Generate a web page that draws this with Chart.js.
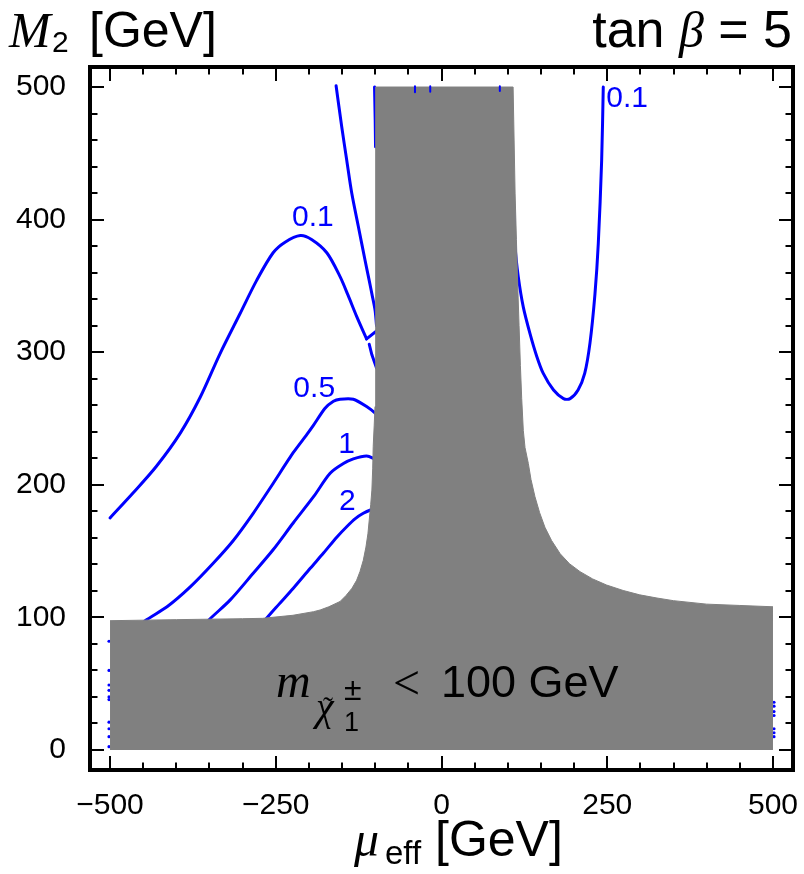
<!DOCTYPE html>
<html><head><meta charset="utf-8">
<script src="https://cdn.jsdelivr.net/npm/chart.js@4.4.1/dist/chart.umd.min.js"></script>
<style>html,body{margin:0;padding:0;background:#fff;} #wrap{width:804px;height:874px;position:relative;}</style>
</head><body><div id="wrap"><canvas id="c" width="804" height="874"></canvas></div>
<script>
// axis ticks
const xTickValues = [-500, -250, 0, 250, 500];
const yTickValues = [0, 100, 200, 300, 400, 500];

// excluded region (m_chargino < 100 GeV): upper boundary, [mu_eff, M2]
const grayBoundary = [[-500,97.5],[-400,98.3],[-300,99],[-270,99.3],[-224,101.6],[-193,104.3],[-183,105.6],[-170,108],[-153,112],[-144,116.5],[-135,122],[-128,128],[-123,134.5],[-118,143],[-114,153],[-111,163],[-109,173.5],[-106.8,185],[-105,196],[-103.8,212],[-103,229],[-101.5,245],[-100.3,259],[-99.5,280],[-99.2,350],[-99,500],[108,500],[109.5,460],[111,420],[113,385],[115,350],[117,320],[119,290],[121,265],[123.4,241],[126,228],[131,216],[135,204],[141,191],[148,179],[156,168],[166,158],[179,148],[193,140.5],[209,134.5],[228,129],[249,124.4],[274,120.3],[299,117],[325,114.6],[350,112.6],[400,110],[450,109],[500,108]];

// contour lines
const c01Hump = [[-500,175],[-465,194],[-430,214],[-394,239],[-364,266],[-334,299],[-304,329],[-279,354],[-254,375],[-236,383],[-213,388],[-196,385],[-173,375],[-153,357],[-141,343],[-128,327],[-113,310]];
const c01Join = [[-113,310],[-98,316]];
const c01Left = [[-159,501],[-150.5,470],[-143,445],[-135.4,420],[-125.5,395],[-115.4,369.5],[-109,354],[-105,344],[-100.3,332],[-98,320]];
const c01Edge = [[-101,500],[-100,475],[-99.5,455]];
const c01Low = [[-109,306],[-105,298],[-98,288]];
const c01Right = [[244,500],[241.6,445],[236.5,382],[231.5,344],[224,307],[216,284],[206,271.5],[194,265],[184,265],[169,271.5],[153.5,284],[143.6,297],[133.5,314],[123.4,334],[115.8,357],[111,380],[108,420]];
const c05 = [[-460,91],[-447,97.5],[-414,108],[-379,123],[-344,141],[-314,158],[-284,178.5],[-254,201],[-224,224],[-203,238],[-193,245],[-176,257.5],[-163,263],[-153,264.5],[-133,264.5],[-113,259],[-100,254],[-95,251]];
const c1 = [[-362,91],[-352,97.5],[-319,113],[-284,133.3],[-254,151],[-224,171],[-193,191],[-168,208.7],[-148,216],[-133,219.5],[-113,221.7],[-100,219.2],[-95,218]];
const c2 = [[-276,91],[-266,98],[-245,110],[-223.5,122],[-198,137],[-178,148.5],[-158,160.5],[-143,168.4],[-130,174.5],[-118,178.5],[-107,181],[-98,182]];
const topBits = [[[-40,500.5],[-40,496]],[[-17,500.5],[-17,496.5]],[[88,500.5],[88,497]]];
const leftEdgeDots = [82, 60, 49, 45, 40, 38, 21, 16, 10, 2.5];
const rightEdgeDots = [36, 33, 29, 26, 16, 13, 10];

// contour labels [text, mu_eff, M2]
const contourLabels = [['0.1',-194,403],['0.1',280,493],['0.5',-192,274],['1',-143,232],['2',-142,189]];

const BLUE = '#0000ff', GRAY = '#808080';
const toXY = arr => arr.map(p => ({x:p[0], y:p[1]}));
const lineDs = (arr, t) => ({data: toXY(arr), showLine:true, borderColor:BLUE, borderWidth:3, pointRadius:0, fill:false, tension:(t===undefined?0.3:t), borderJoinStyle:'round', borderCapStyle:'round'});

const datasets = [];
topBits.forEach(b => datasets.push(Object.assign(lineDs(b, 0), {borderWidth:2, borderCapStyle:'butt'})));
datasets.push({data: toXY(grayBoundary), showLine:true, borderColor:GRAY, borderWidth:1, backgroundColor:GRAY, pointRadius:0, fill:'origin', tension:0});
datasets.push(lineDs(c01Hump));
datasets.push(lineDs(c01Join, 0));
datasets.push(lineDs(c01Left));
datasets.push(lineDs(c01Edge, 0));
datasets.push(lineDs(c01Low, 0));
datasets.push(lineDs(c01Right));
datasets.push(lineDs(c05, 0.2));
datasets.push(lineDs(c1, 0.3));
datasets.push(lineDs(c2, 0.3));
datasets.push({data: leftEdgeDots.map(v=>({x:-501.5,y:v})), showLine:false, pointRadius:1.6, pointBackgroundColor:BLUE, pointBorderWidth:0});
datasets.push({data: rightEdgeDots.map(v=>({x:501.5,y:v})), showLine:false, pointRadius:1.6, pointBackgroundColor:BLUE, pointBorderWidth:0});

const fmt = v => (v < 0 ? '\u2212' + Math.abs(v) : String(v));

const deco = {
  id: 'deco',
  afterDraw(chart) {
    const {ctx, chartArea: a, scales: {x, y}} = chart;
    ctx.save();
    // contour labels
    ctx.fillStyle = BLUE;
    ctx.font = '30px "Liberation Sans"';
    ctx.textAlign = 'center';
    ctx.textBaseline = 'alphabetic';
    contourLabels.forEach(([t, vx, vy]) => {
      ctx.fillText(t, x.getPixelForValue(vx), y.getPixelForValue(vy) + 0.358 * 30);
    });
    // ticks
    ctx.strokeStyle = '#000';
    ctx.lineWidth = 2;
    const seg = (x1,y1,x2,y2)=>{ctx.beginPath();ctx.moveTo(x1,y1);ctx.lineTo(x2,y2);ctx.stroke();};
    for (let v = -500; v <= 500; v += 50) {
      const L = xTickValues.includes(v) ? 14 : 7.5;
      const px = Math.round(x.getPixelForValue(v));
      seg(px, a.bottom, px, a.bottom - L);
      seg(px, a.top, px, a.top + L);
    }
    for (let v = 0; v <= 500; v += 20) {
      const L = yTickValues.includes(v) ? 14 : 7.5;
      const py = Math.round(y.getPixelForValue(v));
      seg(a.left, py, a.left + L, py);
      seg(a.right, py, a.right - L, py);
    }
    ctx.lineWidth = 4;
    ctx.strokeRect(a.left, a.top, a.right - a.left, a.bottom - a.top);

    // texts
    ctx.fillStyle = '#000';
    ctx.textAlign = 'left';
    const serifI = s => `italic ${s}px "Liberation Serif"`;
    const serif = s => `${s}px "Liberation Serif"`;
    const sans = s => `${s}px "Liberation Sans"`;
    // top-left: M_2 [GeV]
    ctx.font = serifI(50); ctx.fillText('M', 9, 47);
    ctx.font = sans(30); ctx.fillText('2', 52, 52);
    ctx.font = sans(50); ctx.fillText('[GeV]', 89, 47);
    // top-right: tan beta = 5
    const parts = [['tan ', sans(52)], ['\u03b2', serifI(50)], [' = 5', sans(52)]];
    let tw = 0; parts.forEach(([s,f]) => { ctx.font = f; tw += ctx.measureText(s).width; });
    let cx = 792 - tw;
    parts.forEach(([s,f]) => { ctx.font = f; ctx.fillText(s, cx, 47); cx += ctx.measureText(s).width; });
    // bottom: mu_eff [GeV]
    ctx.font = serifI(50); ctx.fillText('\u03bc', 354, 856);
    ctx.font = sans(33); ctx.fillText('eff', 385, 864);
    ctx.font = sans(50); ctx.fillText('[GeV]', 435, 856);
    // in-gray label
    ctx.font = serifI(48); ctx.fillText('m', 276, 697);
    ctx.font = serifI(40); ctx.fillText('\u03c7', 316, 720);
    ctx.font = serif(30); ctx.fillText('\u02dc', 323, 717);
    ctx.font = sans(27); ctx.fillText('1', 344, 731);
    ctx.font = sans(32); ctx.fillText('\u00b1', 344, 700);
    ctx.font = serif(48); ctx.fillText('<', 393, 699);
    ctx.font = sans(45); ctx.fillText('100 GeV', 441, 697);
    ctx.restore();
  }
};

new Chart(document.getElementById('c'), {
  type: 'scatter',
  data: { datasets },
  options: {
    responsive: false,
    animation: false,
    devicePixelRatio: 1,
    layout: { padding: { left: 0, top: 67, right: 11, bottom: 0 } },
    plugins: { legend: { display: false }, tooltip: { enabled: false } },
    scales: {
      x: {
        type: 'linear', min: -530.2, max: 530.2,
        afterBuildTicks: s => { s.ticks = xTickValues.map(v => ({value: v})); },
        afterFit: s => { s.height = 104; s.paddingLeft = 0; s.paddingRight = 0; },
        grid: { display: false, drawTicks: false },
        border: { display: false },
        ticks: { padding: 18, color: '#000', font: { family: 'Liberation Sans', size: 30 }, callback: v => fmt(v), maxRotation: 0, autoSkip: false }
      },
      y: {
        type: 'linear', min: -15.1, max: 515.1,
        afterBuildTicks: s => { s.ticks = yTickValues.map(v => ({value: v})); },
        afterFit: s => { s.width = 90; s.paddingTop = 0; s.paddingBottom = 0; },
        grid: { display: false, drawTicks: false },
        border: { display: false },
        ticks: { padding: 24, color: '#000', font: { family: 'Liberation Sans', size: 30 }, callback: v => fmt(v), autoSkip: false }
      }
    }
  },
  plugins: [deco]
});
</script>
</body></html>
